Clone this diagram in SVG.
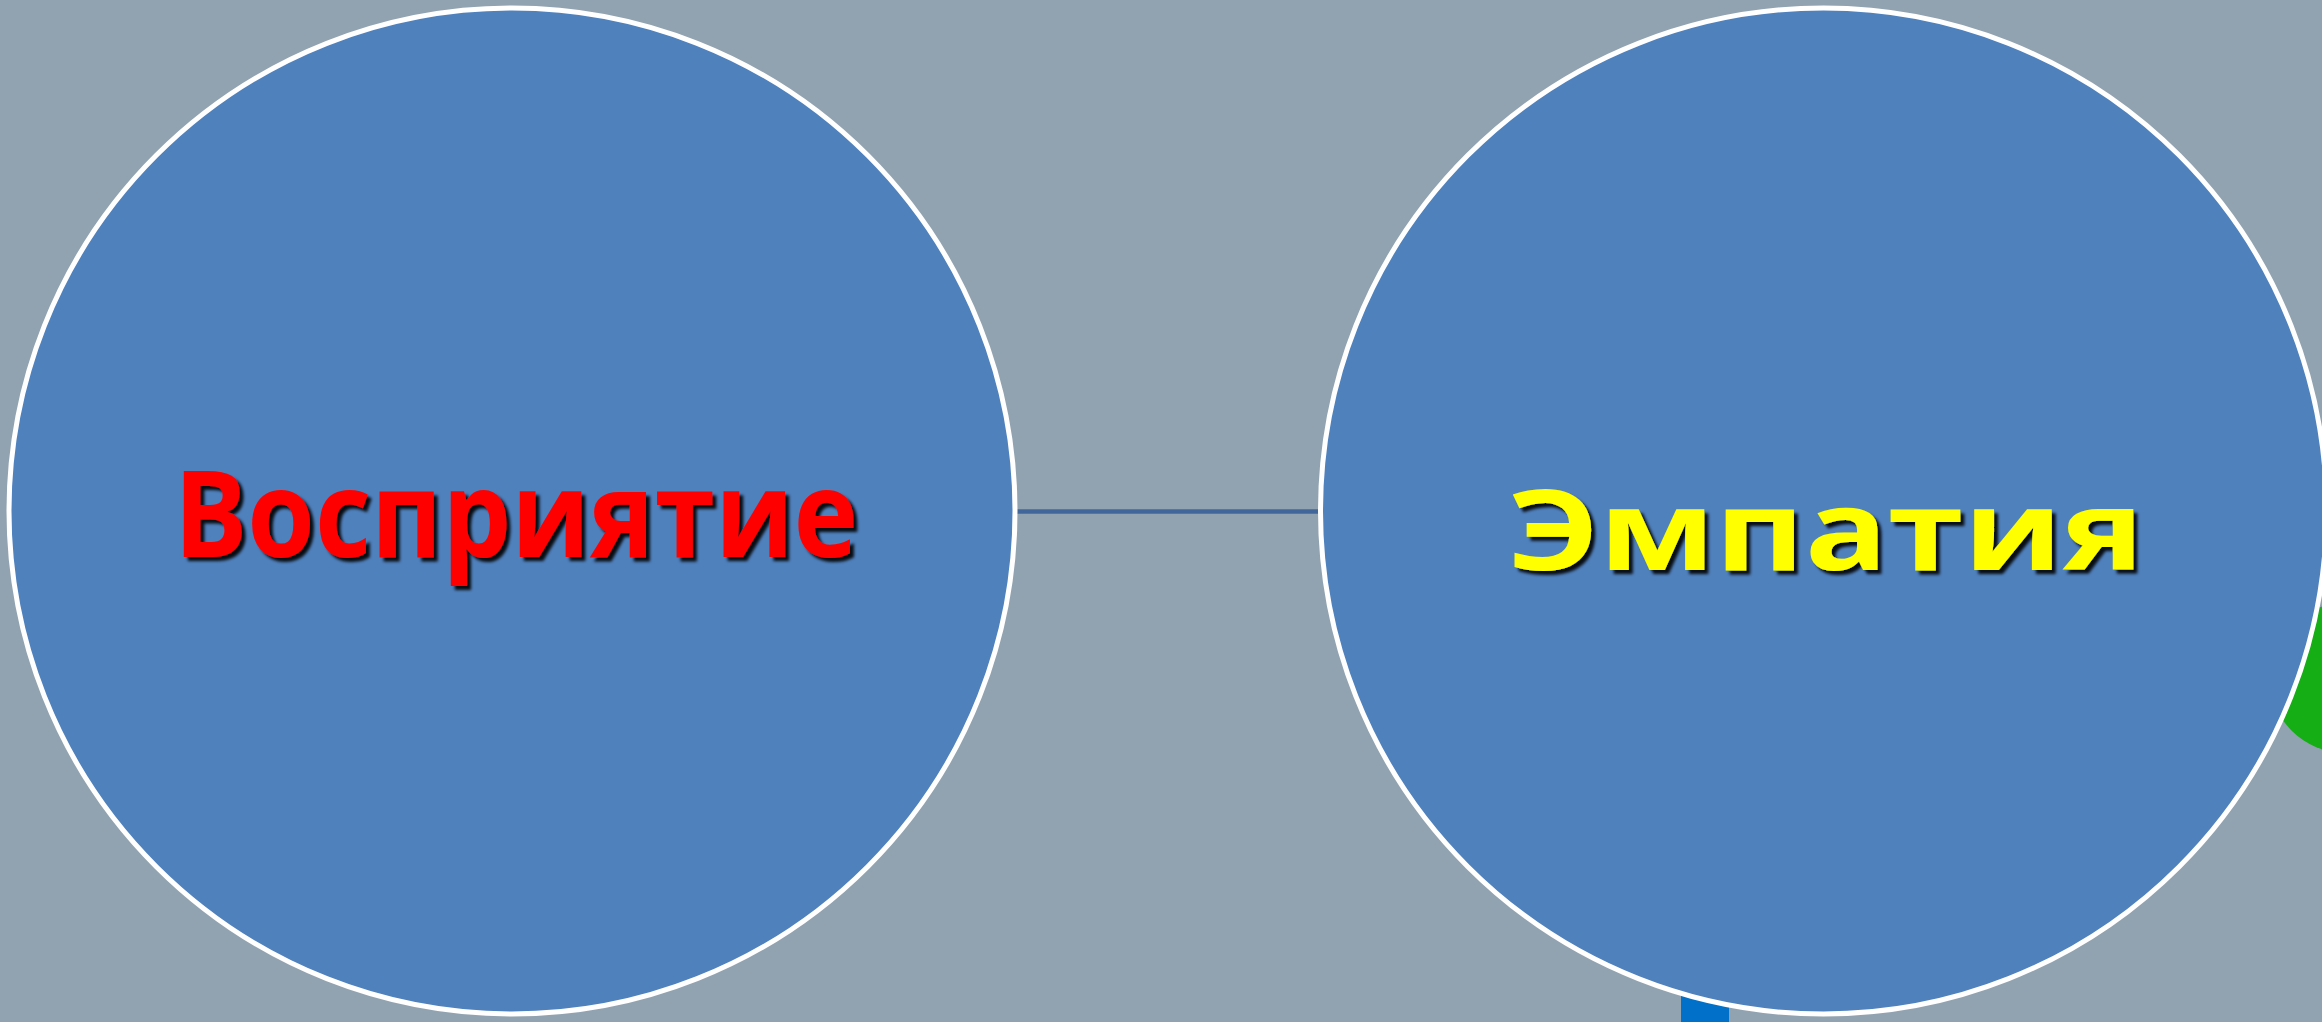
<svg xmlns="http://www.w3.org/2000/svg" width="2322" height="1022" viewBox="0 0 2322 1022">
  <style>
    .node { fill: #4F81BD; stroke: #FFFFFF; stroke-width: 5; }
    .label { font-family: "Open Sans", "Noto Sans", "DejaVu Sans", sans-serif; font-weight: 700; filter: url(#shadow); }
    .conn { stroke: #41679A; stroke-width: 4.5; fill: none; }
  </style>
  <defs>
    <filter id="shadow" x="-10%" y="-20%" width="120%" height="150%">
      <feDropShadow dx="4" dy="4" stdDeviation="1.8" flood-color="#000000" flood-opacity="0.9"/>
    </filter>
  </defs>
  <rect width="2322" height="1022" fill="#91A3B0"/>
  <g id="decor">
    <circle cx="2345" cy="678" r="75" fill="#15AE15"/>
    <rect x="1681" y="900" width="48" height="122" fill="#0070C8"/>
  </g>
  <g id="connectors">
    <line class="conn" x1="1016" y1="511.5" x2="1318" y2="511.5"/>
  </g>
  <g id="node-perception">
    <circle class="node" cx="512" cy="511" r="503"/>
    <text class="label" x="174" y="557" font-size="121" fill="#FF0000" textLength="684" lengthAdjust="spacingAndGlyphs">Восприятие</text>
  </g>
  <g id="node-empathy">
    <circle class="node" cx="1823.5" cy="511" r="503"/>
    <text class="label" x="1508" y="570" font-size="112" fill="#FFFF00" textLength="636" lengthAdjust="spacingAndGlyphs">Эмпатия</text>
  </g>
</svg>
